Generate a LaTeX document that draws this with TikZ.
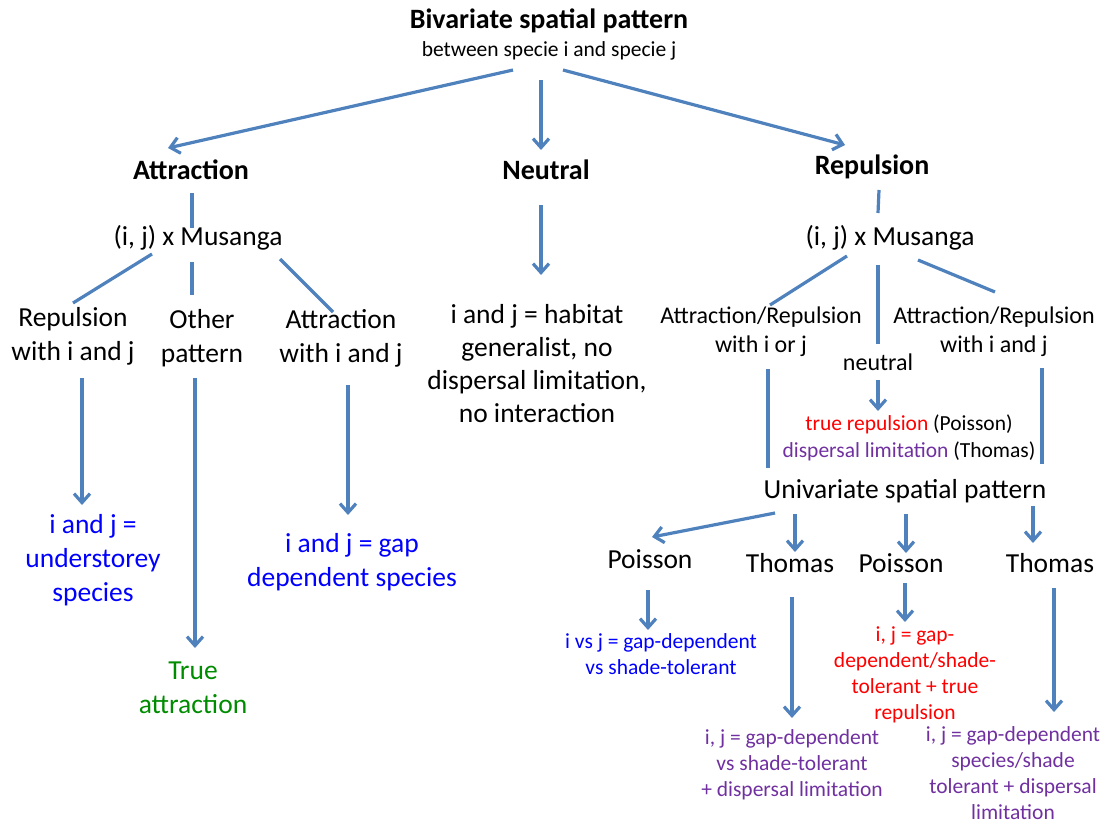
\documentclass[tikz,border=0pt]{standalone}
\usepackage{fontspec}
\setmainfont{Carlito}
\usetikzlibrary{arrows.meta}
\definecolor{lnblue}{HTML}{4F81BD}
\definecolor{txblue}{HTML}{0000FF}
\definecolor{txgreen}{HTML}{008C00}
\definecolor{txred}{HTML}{FF0000}
\definecolor{txpurple}{HTML}{7030A0}

\begin{document}
\begin{tikzpicture}[x=1pt,y=-1pt,
  every node/.style={inner sep=0pt,align=center},
  hd/.style={font=\fontsize{28}{30}\selectfont\bfseries},
  lg/.style={font=\fontsize{27.5}{34}\selectfont},
  md/.style={font=\fontsize{24}{29}\selectfont},
  sm/.style={font=\fontsize{21.5}{26}\selectfont},
  ln/.style={draw=lnblue,line width=3.2pt},
  ar/.style={ln,-{Straight Barb[length=9pt,width=16pt]}}]
\useasboundingbox (0,0) rectangle (1102,825);
\node[font=\fontsize{21.5}{28}\selectfont] (T) at (549,34) {{\fontsize{28}{30}\selectfont\bfseries Bivariate spatial pattern}\\between specie i and specie j};
\node[hd] (A) at (191,170) {Attraction};
\node[hd] (N) at (546,170) {Neutral};
\node[hd] (R) at (872,167) {Repulsion};
\node[lg] (MA) at (198,238) {(i, j) x Musanga};
\node[lg] (MR) at (890,238) {(i, j) x Musanga};
\node[lg] (RW) at (73,336) {Repulsion\\with i and j};
\node[lg] (OP) at (202,338) {Other\\pattern};
\node[lg] (AW) at (341,338) {Attraction\\with i and j};
\node[lg,text=txblue] (US) at (93,560) {i and j =\\understorey\\species};
\node[lg,text=txgreen] (TA) at (193,688) {True\\attraction};
\node[lg,text=txblue] (GD) at (352,562) {i and j = gap\\dependent species};
\node[lg,font=\fontsize{27.5}{33}\selectfont] (HG) at (537,364) {i and j = habitat\\generalist, no\\dispersal limitation,\\no interaction};
\node[md] (AO) at (761,332) {Attraction/Repulsion\\with i or j};
\node[md] (NE) at (878,362) {neutral};
\node[md] (AA) at (994,332) {Attraction/Repulsion\\with i and j};
\node[sm,font=\fontsize{21.5}{27}\selectfont] (TR) at (909,438) {\textcolor{txred}{true repulsion} (Poisson)\\\textcolor{txpurple}{dispersal limitation} (Thomas)};
\node[lg] (U) at (905,491) {Univariate spatial pattern};
\node[lg] (P1) at (650,559) {Poisson};
\node[lg] (T1) at (790,563) {Thomas};
\node[lg] (P2) at (901,563) {Poisson};
\node[lg] (T2) at (1050,563) {Thomas};
\node[sm,text=txblue] (IJ) at (661,654) {i vs j = gap-dependent\\vs shade-tolerant};
\node[sm,text=txred] (RE) at (915,675) {i, j = gap-\\dependent/shade-\\tolerant + true\\repulsion};
\node[sm,text=txpurple] (PU1) at (792,765) {i, j = gap-dependent\\vs shade-tolerant\\+ dispersal limitation};
\node[sm,text=txpurple] (PU2) at (1013,773) {i, j = gap-dependent\\species/shade\\tolerant + dispersal\\limitation};
\draw[ar] ([shift={(-36,36)}]T.center) -- ([shift={(-23,-22)}]A.center);
\draw[ar] ([shift={(-8,46)}]T.center) -- ([shift={(-5,-20)}]N.center);
\draw[ar] ([shift={(14,36)}]T.center) -- ([shift={(-27,-22)}]R.center);
\draw[ln] ([shift={(1,23)}]A.center) -- ([shift={(-6,-10)}]MA.center);
\draw[ln] ([shift={(-46,16)}]MA.center) -- ([shift={(0,-33)}]RW.center);
\draw[ln] ([shift={(-6,24)}]MA.center) -- ([shift={(-10,-43)}]OP.center);
\draw[ln] ([shift={(82,21)}]MA.center) -- ([shift={(-8,-26)}]AW.center);
\draw[ar] ([shift={(9,42)}]RW.center) -- ([shift={(-11,-55)}]US.center);
\draw[ar] ([shift={(-7,40)}]OP.center) -- ([shift={(2,-40)}]TA.center);
\draw[ar] ([shift={(7,47)}]AW.center) -- ([shift={(-4,-47)}]GD.center);
\draw[ar] ([shift={(-5,35)}]N.center) -- ([shift={(4,-89)}]HG.center);
\draw[ln] ([shift={(7,23)}]R.center) -- ([shift={(-12,-25)}]MR.center);
\draw[ln] ([shift={(-43,18)}]MR.center) -- ([shift={(9,-27)}]AO.center);
\draw[ln] ([shift={(-12,27)}]MR.center) -- ([shift={(0,-18)}]NE.center);
\draw[ln] ([shift={(28,22)}]MR.center) -- ([shift={(1,-40)}]AA.center);
\draw[ar] ([shift={(0,18)}]NE.center) -- ([shift={(-31,-27)}]TR.center);
\draw[ln] ([shift={(7,37)}]AO.center) -- ([shift={(-137,-23)}]U.center);
\draw[ln] ([shift={(48,36)}]AA.center) -- ([shift={(137,-27)}]U.center);
\draw[ar] ([shift={(-130,22)}]U.center) -- ([shift={(2,-22)}]P1.center);
\draw[ar] ([shift={(-110,23)}]U.center) -- ([shift={(5,-11)}]T1.center);
\draw[ar] ([shift={(1,23)}]U.center) -- ([shift={(5,-10)}]P2.center);
\draw[ar] ([shift={(128,15)}]U.center) -- ([shift={(-17,-20)}]T2.center);
\draw[ar] ([shift={(-2,31)}]P1.center) -- ([shift={(-13,-24)}]IJ.center);
\draw[ar] ([shift={(2,34)}]T1.center) -- ([shift={(0,-47)}]PU1.center);
\draw[ar] ([shift={(4,20)}]P2.center) -- ([shift={(-10,-53)}]RE.center);
\draw[ar] ([shift={(4,25)}]T2.center) -- ([shift={(41,-61)}]PU2.center);
\end{tikzpicture}
\end{document}
